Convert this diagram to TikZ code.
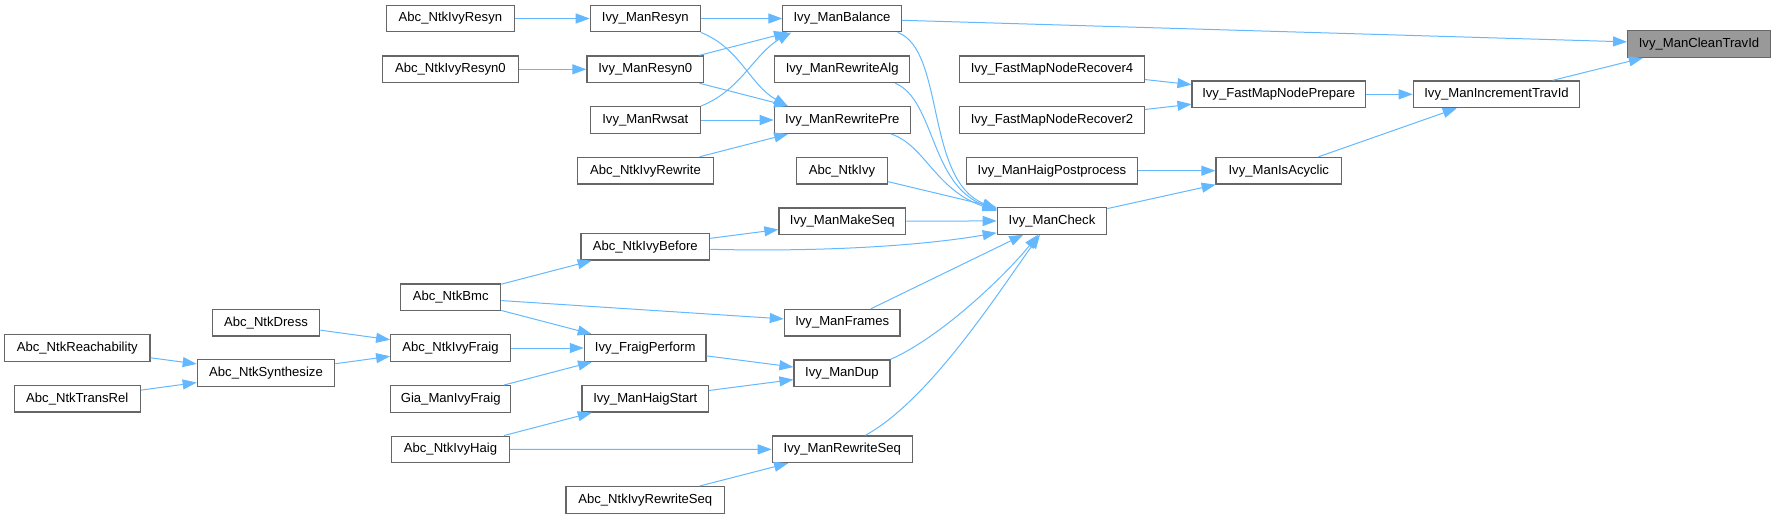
\documentclass[tikz,border=0pt]{standalone}
\usepackage{fontspec}
\setmainfont{Liberation Sans}
\usetikzlibrary{arrows.meta}
\definecolor{edgeblue}{HTML}{63B8FF}
\definecolor{boxgray}{HTML}{666666}
\definecolor{targetfill}{HTML}{999999}
\begin{document}
\begin{tikzpicture}[x=1pt,y=-1pt,
  fn/.style={draw=boxgray, line width=1.2pt, fill=white, minimum height=26.7pt, inner sep=0pt,
    font=\fontsize{13.1}{15}\selectfont, anchor=center},
  tgt/.style={fn, fill=targetfill},
  edge/.style={draw=edgeblue, line width=1pt, -{Triangle[length=14pt,width=10pt]}}]
\useasboundingbox (0,0) rectangle (1776,519);
% column 0
\node[fn, minimum width=145.3pt] (reach) at (77.3,348) {Abc\_NtkReachability};
\node[fn, minimum width=126pt] (transrel) at (77.3,398.7) {Abc\_NtkTransRel};
% column 1
\node[fn, minimum width=107.7pt] (dress) at (266,322.7) {Abc\_NtkDress};
\node[fn, minimum width=137.4pt] (synth) at (266,373.2) {Abc\_NtkSynthesize};
% column 2
\node[fn, minimum width=128.6pt] (resynA) at (450.4,18.5) {Abc\_NtkIvyResyn};
\node[fn, minimum width=135.5pt] (resyn0A) at (450.4,69.3) {Abc\_NtkIvyResyn0};
\node[fn, minimum width=100pt] (bmc) at (450.7,297.3) {Abc\_NtkBmc};
\node[fn, minimum width=119.6pt] (ivyfraig) at (450.5,348) {Abc\_NtkIvyFraig};
\node[fn, minimum width=120pt] (gia) at (450.7,399) {Gia\_ManIvyFraig};
\node[fn, minimum width=117.6pt] (haig) at (450.5,449.5) {Abc\_NtkIvyHaig};
% column 3
\node[fn, minimum width=110pt] (resyn) at (645.3,18.5) {Ivy\_ManResyn};
\node[fn, minimum width=116.7pt] (resyn0) at (645.3,69.3) {Ivy\_ManResyn0};
\node[fn, minimum width=110pt] (rwsat) at (645.3,120) {Ivy\_ManRwsat};
\node[fn, minimum width=135.6pt] (ntkrew) at (645.5,170.7) {Abc\_NtkIvyRewrite};
\node[fn, minimum width=128.7pt] (before) at (645.3,246.7) {Abc\_NtkIvyBefore};
\node[fn, minimum width=121.7pt] (fraig) at (645.2,348) {Ivy\_FraigPerform};
\node[fn, minimum width=126.7pt] (haigstart) at (645.3,398.7) {Ivy\_ManHaigStart};
\node[fn, minimum width=158.7pt] (rewseqA) at (645.3,500) {Abc\_NtkIvyRewriteSeq};
% column 4
\node[fn, minimum width=118.3pt] (balance) at (842,18.5) {Ivy\_ManBalance};
\node[fn, minimum width=135pt] (rewalg) at (842.2,69.3) {Ivy\_ManRewriteAlg};
\node[fn, minimum width=136pt] (rewpre) at (842.3,120) {Ivy\_ManRewritePre};
\node[fn, minimum width=90.6pt] (ntkivy) at (842,170.7) {Abc\_NtkIvy};
\node[fn, minimum width=126.7pt] (makeseq) at (842.3,221.3) {Ivy\_ManMakeSeq};
\node[fn, minimum width=115.7pt] (frames) at (842.2,322.7) {Ivy\_ManFrames};
\node[fn, minimum width=96pt] (dup) at (842,373.3) {Ivy\_ManDup};
\node[fn, minimum width=140pt] (rewseq) at (842.3,449.3) {Ivy\_ManRewriteSeq};
% column 5
\node[fn, minimum width=184.6pt] (rec4) at (1052,69.3) {Ivy\_FastMapNodeRecover4};
\node[fn, minimum width=184.6pt] (rec2) at (1052,120) {Ivy\_FastMapNodeRecover2};
\node[fn, minimum width=171.4pt] (haigpost) at (1052,170.7) {Ivy\_ManHaigPostprocess};
\node[fn, minimum width=109.4pt] (check) at (1052,220.8) {Ivy\_ManCheck};
% column 6
\node[fn, minimum width=173.3pt] (prepare) at (1278.7,94.3) {Ivy\_FastMapNodePrepare};
\node[fn, minimum width=125.7pt] (acyclic) at (1278.8,170.7) {Ivy\_ManIsAcyclic};
% column 7
\node[fn, minimum width=166.4pt] (inctrav) at (1496.5,94.3) {Ivy\_ManIncrementTravId};
% column 8
\node[tgt, minimum width=142.7pt] (clean) at (1699,44) {Ivy\_ManCleanTravId};

% straight edges
\draw[edge] (resynA) -- (resyn);
\draw[edge] (resyn0A) -- (resyn0);
\draw[edge] (resyn) -- (balance);
\draw[edge] (resyn0) -- (balance);
\draw[edge] (resyn0) -- (rewpre);
\draw[edge] (rwsat) -- (rewpre);
\draw[edge] (ntkrew) -- (rewpre);
\draw[edge] (balance) -- (clean);
\draw[edge] (ntkivy) -- (check);
\draw[edge] (makeseq) -- (check);
\draw[edge] (before) -- (makeseq);
\draw[edge] (frames) -- (check);
\draw[edge] (check) -- (acyclic);
\draw[edge] (haigpost) -- (acyclic);
\draw[edge] (acyclic) -- (inctrav);
\draw[edge] (rec4) -- (prepare);
\draw[edge] (rec2) -- (prepare);
\draw[edge] (prepare) -- (inctrav);
\draw[edge] (inctrav) -- (clean);
\draw[edge] (bmc) -- (before);
\draw[edge] (bmc) -- (frames);
\draw[edge] (bmc) -- (fraig);
\draw[edge] (ivyfraig) -- (fraig);
\draw[edge] (gia) -- (fraig);
\draw[edge] (dress) -- (ivyfraig);
\draw[edge] (synth) -- (ivyfraig);
\draw[edge] (reach) -- (synth);
\draw[edge] (transrel) -- (synth);
\draw[edge] (fraig) -- (dup);
\draw[edge] (haigstart) -- (dup);
\draw[edge] (haig) -- (haigstart);
\draw[edge] (haig) -- (rewseq);
\draw[edge] (rewseqA) -- (rewseq);

% curved edges
\draw[edge] (resyn.south east) .. controls (740,48) and (750,85) .. ([xshift=14pt]rewpre.north west);
\draw[edge] (rwsat.north east) .. controls (740,91) and (755,53) .. ([xshift=9pt]balance.south west);
\draw[edge] ([xshift=-4pt]balance.south east) .. controls (945,50) and (925,180) .. ([yshift=-2pt]check.north west);
\draw[edge] ([xshift=-15pt]rewalg.south east) .. controls (935,100) and (930,185) .. ([yshift=-3pt]check.north west);
\draw[edge] ([xshift=-20pt]rewpre.south east) .. controls (925,145) and (935,190) .. ([yshift=-4pt]check.north west);
\draw[edge] ([yshift=-2.6pt]before.east) .. controls (820,252) and (920,246) .. ([yshift=-12pt]check.west);
\draw[edge] (dup.north east) .. controls (945,335) and (1010,270) .. ([xshift=-14pt]check.south);
\draw[edge] ([xshift=23pt]rewseq.north) .. controls (930,400) and (1000,290) .. ([xshift=-12pt]check.south);
\end{tikzpicture}
\end{document}
